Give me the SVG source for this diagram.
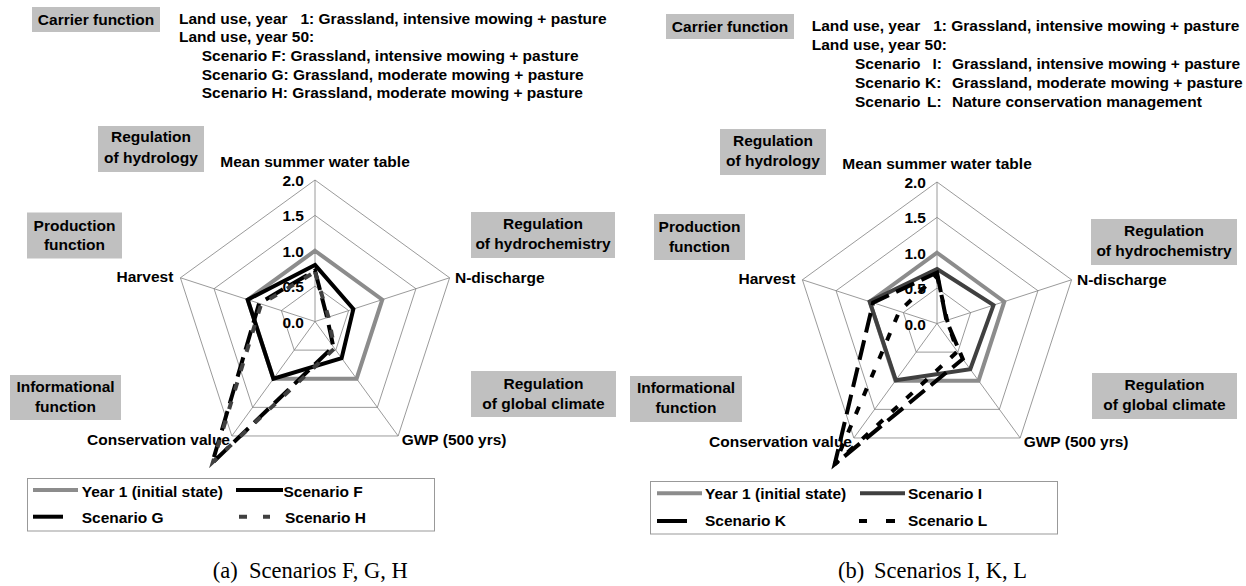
<svg xmlns="http://www.w3.org/2000/svg" width="1246" height="586" viewBox="0 0 1246 586">
<style>
text{font-family:"Liberation Sans",Arial,sans-serif;font-weight:bold;font-size:15.5px;fill:#000}
.cap{font-family:"Liberation Serif","Times New Roman",serif;font-weight:normal;font-size:22.5px}
.box{fill:#c0c0c0;stroke:none}
.mid{text-anchor:middle}
.end{text-anchor:end}
.grid{fill:none;stroke:#808080;stroke-width:0.8}
.s{fill:none;stroke-width:4;stroke-linejoin:miter;stroke-miterlimit:4}
.y1{stroke:#8c8c8c}
.blk{stroke:#000}
.dk{stroke:#404040}
.ld{stroke-dasharray:20 8}
.sd{stroke-dasharray:8 12}
.leg{fill:#fff;stroke:#999;stroke-width:1}
</style>
<defs>
<g id="grid">
<polygon class="grid" points="0,-141.5 134.58,-43.72 83.17,114.47 -83.17,114.47 -134.58,-43.72"/>
<polygon class="grid" points="0,-106.13 100.93,-32.79 62.38,85.86 -62.38,85.86 -100.93,-32.79"/>
<polygon class="grid" points="0,-70.75 67.29,-21.86 41.59,57.24 -41.59,57.24 -67.29,-21.86"/>
<polygon class="grid" points="0,-35.38 33.64,-10.93 20.79,28.62 -20.79,28.62 -33.64,-10.93"/>
<path class="grid" d="M0,0V-141.5M0,0L134.58,-43.72M0,0L83.17,114.47M0,0L-83.17,114.47M0,0L-134.58,-43.72"/>
<text class="end" x="-11" y="-135.5">2.0</text>
<text class="end" x="-11" y="-100.1">1.5</text>
<text class="end" x="-11" y="-64.75">1.0</text>
<text class="end" x="-11" y="-29.4">0.5</text>
<text class="end" x="-11" y="6">0.0</text>
</g>
</defs>

<!-- Panel (a) -->
<g id="a-carrier"><rect class="box" x="32" y="7" width="128" height="25"/><text class="mid" x="96" y="24.5">Carrier function</text></g>
<g id="a-header">
<text x="179" y="23.5" xml:space="preserve">Land use, year   1: Grassland, intensive mowing + pasture</text>
<text x="179" y="42">Land use, year 50:</text>
<text x="201.7" y="61">Scenario F: Grassland, intensive mowing + pasture</text>
<text x="201.7" y="79.5">Scenario G: Grassland, moderate mowing + pasture</text>
<text x="201.7" y="98">Scenario H: Grassland, moderate mowing + pasture</text>
</g>
<g id="a-hydrology"><rect class="box" x="98" y="126" width="106" height="46"/><text class="mid" x="151" y="142">Regulation</text><text class="mid" x="151" y="163">of hydrology</text></g>
<g id="a-production"><rect class="box" x="27" y="212.5" width="95" height="46"/><text class="mid" x="74.5" y="230.5">Production</text><text class="mid" x="74.5" y="250">function</text></g>
<g id="a-informational"><rect class="box" x="10" y="375" width="111" height="45"/><text class="mid" x="65.5" y="392">Informational</text><text class="mid" x="65.5" y="412">function</text></g>
<g id="a-hydrochemistry"><rect class="box" x="471" y="212" width="144" height="46"/><text class="mid" x="543" y="229">Regulation</text><text class="mid" x="543" y="249">of hydrochemistry</text></g>
<g id="a-climate"><rect class="box" x="471" y="371" width="145" height="46"/><text class="mid" x="543.5" y="388.5">Regulation</text><text class="mid" x="543.5" y="408.5">of global climate</text></g>

<g id="a-chart" transform="translate(315,321.5)">
<use href="#grid"/>
<text class="mid" x="0" y="-154.2">Mean summer water table</text>
<text x="140" y="-38.5">N-discharge</text>
<text x="86.7" y="123.5">GWP (500 yrs)</text>
<text class="end" x="-85" y="123.5">Conservation value</text>
<text class="end" x="-141.7" y="-39.8">Harvest</text>
<g id="a-series">
<polygon class="s y1" points="0,-70.75 67.29,-21.86 41.59,57.24 -41.59,57.24 -67.29,-21.86"/>
<polygon class="s blk" points="0,-56.6 38.36,-12.46 26.62,36.63 -41.59,57.24 -67.29,-21.86"/>
<polygon class="s blk ld" points="0,-50.94 12.11,-3.94 18.3,25.18 -102.72,141.37 -55.85,-18.15"/>
<polygon class="s dk sd" points="0,-49.53 13.46,-4.37 19.54,26.9 -101.89,140.23 -53.83,-17.49"/>
</g>
</g>

<g id="a-legend">
<rect class="leg" x="27.5" y="478.5" width="407" height="52.5"/>
<line class="s y1" x1="33" y1="490" x2="78" y2="490"/>
<text x="81.7" y="496.5">Year 1 (initial state)</text>
<line class="s blk" x1="236" y1="490" x2="283" y2="490"/>
<text x="283.5" y="496.5">Scenario F</text>
<line class="s blk" x1="33" y1="516.7" x2="63" y2="516.7"/>
<text x="81.7" y="523">Scenario G</text>
<path class="s dk" d="M239,516.7H247M263,516.7H270"/>
<text x="285" y="523">Scenario H</text>
</g>
<text class="cap" y="578"><tspan x="212.7">(a)</tspan><tspan x="249">Scenarios F, G, H</tspan></text>

<!-- Panel (b) -->
<g id="b-carrier"><rect class="box" x="666" y="14" width="128" height="25"/><text class="mid" x="730" y="31.5">Carrier function</text></g>
<g id="b-header">
<text x="811.7" y="31" xml:space="preserve">Land use, year   1: Grassland, intensive mowing + pasture</text>
<text x="811.7" y="50">Land use, year 50:</text>
<text y="69"><tspan x="855">Scenario</tspan><tspan class="end" x="942">I:</tspan><tspan x="952">Grassland, intensive mowing + pasture</tspan></text>
<text y="88"><tspan x="855">Scenario</tspan><tspan x="925">K:</tspan><tspan x="952">Grassland, moderate mowing + pasture</tspan></text>
<text y="107"><tspan x="855">Scenario</tspan><tspan x="927">L:</tspan><tspan x="952">Nature conservation management</tspan></text>
</g>
<g id="b-hydrology"><rect class="box" x="720" y="129" width="106" height="46"/><text class="mid" x="773" y="145.5">Regulation</text><text class="mid" x="773" y="166">of hydrology</text></g>
<g id="b-production"><rect class="box" x="654" y="214" width="91" height="46"/><text class="mid" x="699.5" y="231.5">Production</text><text class="mid" x="699.5" y="251.5">function</text></g>
<g id="b-informational"><rect class="box" x="630" y="376" width="112" height="46"/><text class="mid" x="686" y="393">Informational</text><text class="mid" x="686" y="413">function</text></g>
<g id="b-hydrochemistry"><rect class="box" x="1091" y="219" width="146" height="46"/><text class="mid" x="1164" y="236">Regulation</text><text class="mid" x="1164" y="256">of hydrochemistry</text></g>
<g id="b-climate"><rect class="box" x="1092" y="373" width="145" height="46"/><text class="mid" x="1164.5" y="390">Regulation</text><text class="mid" x="1164.5" y="410">of global climate</text></g>

<g id="b-chart" transform="translate(937,323.5)">
<use href="#grid"/>
<text class="mid" x="0" y="-154.2">Mean summer water table</text>
<text x="140" y="-38.5">N-discharge</text>
<text x="86.7" y="123.5">GWP (500 yrs)</text>
<text class="end" x="-85" y="123.5">Conservation value</text>
<text class="end" x="-141.7" y="-39.8">Harvest</text>
<g id="b-series">
<polygon class="s y1" points="0,-70.75 67.29,-21.86 41.59,57.24 -41.59,57.24 -67.29,-21.86"/>
<polygon class="s dk" points="0,-54.48 56.52,-18.36 33.27,45.79 -41.17,56.66 -67.29,-21.86"/>
<polygon class="s blk ld" points="0,-50.94 9.42,-3.06 25.78,35.49 -102.31,140.8 -63.92,-20.77"/>
<polygon class="s blk sd" points="0,-48.11 10.09,-3.28 20.38,28.05 -102.31,140.8 -37.68,-12.24"/>
</g>
</g>

<g id="b-legend">
<rect class="leg" x="650.5" y="481.5" width="407" height="52.5"/>
<line class="s y1" x1="657" y1="493.3" x2="702" y2="493.3"/>
<text x="705" y="499">Year 1 (initial state)</text>
<line class="s dk" x1="860" y1="493.3" x2="905" y2="493.3"/>
<text x="908" y="499">Scenario I</text>
<line class="s blk" x1="657" y1="521" x2="687" y2="521"/>
<text x="705" y="526">Scenario K</text>
<path class="s blk" d="M859,521H867M886,521H895"/>
<text x="908" y="526">Scenario L</text>
</g>
<text class="cap" y="578"><tspan x="838">(b)</tspan><tspan x="874">Scenarios I, K, L</tspan></text>
</svg>
